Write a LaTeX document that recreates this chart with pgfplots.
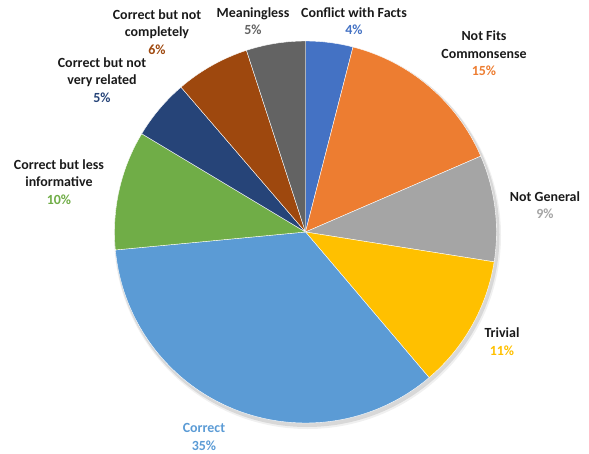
\documentclass[border=0pt]{standalone}
\usepackage{pgfplots}
\usepackage{pgfplotstable}
\pgfplotsset{compat=1.18}
\usepackage{fontspec}
\setmainfont{Carlito}
\definecolor{c1}{HTML}{4472C4}
\definecolor{c2}{HTML}{ED7D31}
\definecolor{c3}{HTML}{A5A5A5}
\definecolor{c4}{HTML}{FFC000}
\definecolor{c5}{HTML}{5B9BD5}
\definecolor{c6}{HTML}{70AD47}
\definecolor{c7}{HTML}{264478}
\definecolor{c8}{HTML}{9E480E}
\definecolor{c9}{HTML}{636363}
\definecolor{lbl}{HTML}{1A1A1A}

% slice shares (%), clockwise from 12 o'clock
\pgfplotstableread[col sep=comma]{
value,color
4.0,c1
14.5,c2
9.0,c3
11.3,c4
34.7,c5
10.1,c6
5.1,c7
6.3,c8
5.0,c9
}\piedata

\begin{document}
\begin{tikzpicture}
\begin{axis}[hide axis, scale only axis, width=589bp, height=454bp,
  xmin=0, xmax=589, ymin=0, ymax=454, y dir=reverse, clip=false]
\draw[draw=none] (axis cs:0,0) rectangle (axis cs:589,454);
% soft shadow
\fill[black, opacity=0.10] (axis cs:307,234.5) circle[radius=192.5bp];
\fill[black, opacity=0.06] (axis cs:307.5,235.5) circle[radius=193.5bp];
\pgfplotstablegetrowsof{\piedata}
\pgfmathtruncatemacro\N{\pgfplotsretval-1}
\def\cum{0}
\pgfplotsforeachungrouped \i in {0,...,\N}{%
  \pgfplotstablegetelem{\i}{value}\of\piedata \let\v\pgfplotsretval
  \pgfplotstablegetelem{\i}{color}\of\piedata \let\c\pgfplotsretval
  \pgfmathsetmacro\a{90-3.6*\cum}%
  \pgfmathsetmacro\b{90-3.6*(\cum+\v)}%
  \edef\cmd{\noexpand\fill[\c, draw=white, line width=0.4pt, line join=round] (axis cs:305.5,232) -- ++(\a:191bp) arc[start angle=\a, end angle=\b, radius=191bp] -- cycle;}%
  \cmd
  \pgfmathsetmacro\cum{\cum+\v}%
}
\tikzset{lab/.style={align=center, font=\fontsize{14}{17.5}\selectfont\bfseries, text=lbl, inner sep=0pt}}
\node[lab] at (axis cs:354,21) {Conflict with Facts\\\textcolor{c1}{4\%}};
\node[lab] at (axis cs:484,53.5) {Not Fits\\Commonsense\\\textcolor{c2}{15\%}};
\node[lab] at (axis cs:545,205) {Not General\\\textcolor{c3}{9\%}};
\node[lab] at (axis cs:502,341.5) {Trivial\\\textcolor{c4}{11\%}};
\node[lab, text=c5] at (axis cs:204,437) {Correct\\35\%};
\node[lab] at (axis cs:59,182) {Correct but less\\informative\\\textcolor{c6}{10\%}};
\node[lab] at (axis cs:102,80) {Correct but not\\very related\\\textcolor{c7}{5\%}};
\node[lab] at (axis cs:157,32) {Correct but not\\completely\\\textcolor{c8}{6\%}};
\node[lab] at (axis cs:253,21) {Meaningless\\\textcolor{c9}{5\%}};
\end{axis}
\end{tikzpicture}
\end{document}
